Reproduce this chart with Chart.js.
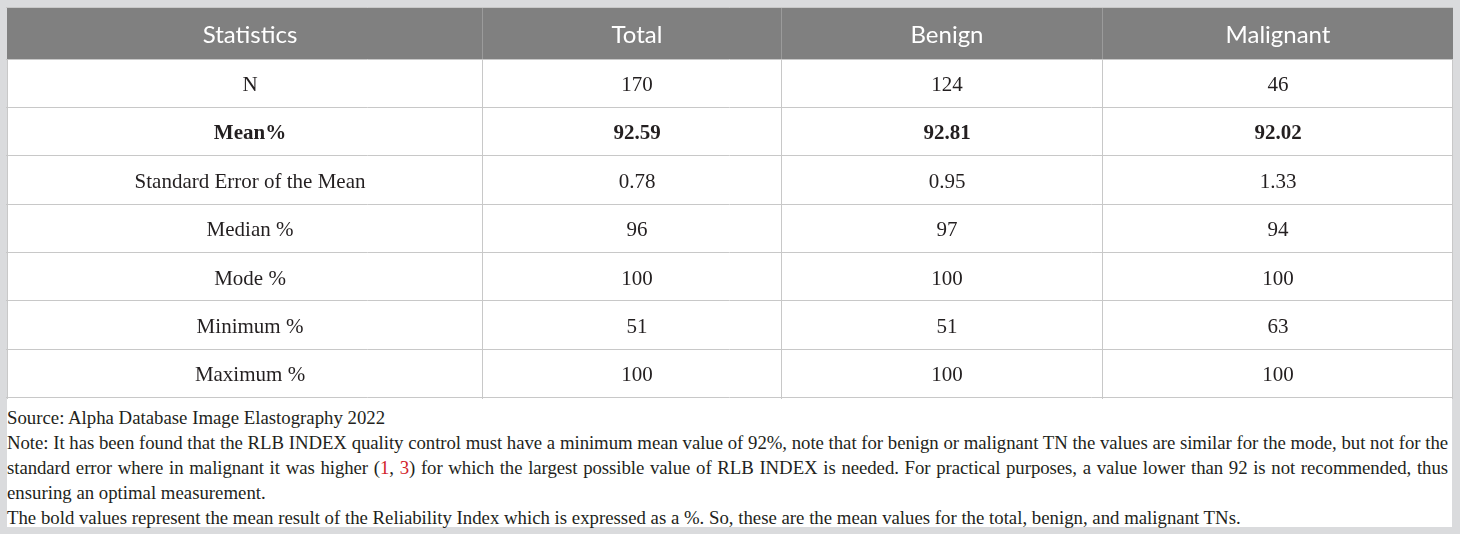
<!DOCTYPE html>
<html>
<head>
<meta charset="utf-8">
<script src="https://cdn.jsdelivr.net/npm/chart.js@4/dist/chart.umd.min.js"></script>
<style>
  html, body { margin: 0; padding: 0; background: #dadbdd; }
  #panel { position: absolute; left: 7px; top: 8px; width: 1445px; height: 519px; background: #fff; }
  #tbl { position: absolute; left: -1px; top: -1px; }
  #notes {
    position: absolute; left: 0; top: 397px; width: 1441px;
    font-family: "Liberation Serif", serif; font-size: 18.8px; line-height: 25px; color: #231f20;
  }
  #notes .j { text-align: justify; text-align-last: justify; letter-spacing: -0.06px; }
  #notes .ref { color: #d2232a; }
</style>
</head>
<body>
<div id="panel">
  <canvas id="tbl" width="1447" height="392"></canvas>
  <div id="notes">
    <div>Source: Alpha Database Image Elastography 2022</div>
    <div class="j">Note: It has been found that the RLB INDEX quality control must have a minimum mean value of 92%, note that for benign or malignant TN the values are similar for the mode, but not for the</div>
    <div class="j">standard error where in malignant it was higher (<span class="ref">1</span>, <span class="ref">3</span>) for which the largest possible value of RLB INDEX is needed. For practical purposes, a value lower than 92 is not recommended, thus</div>
    <div>ensuring an optimal measurement.</div>
    <div>The bold values represent the mean result of the Reliability Index which is expressed as a %. So, these are the mean values for the total, benign, and malignant TNs.</div>
  </div>
</div>
<script>
// table data
var columns = ["Statistics", "Total", "Benign", "Malignant"];
var statistics = ["N", "Mean%", "Standard Error of the Mean", "Median %", "Mode %", "Minimum %", "Maximum %"];
var total = [170, 92.59, 0.78, 96, 100, 51, 100];
var benign = [124, 92.81, 0.95, 97, 100, 51, 100];
var malignant = [46, 92.02, 1.33, 94, 100, 63, 100];
var decimals = [0, 2, 2, 0, 0, 0, 0];
var boldRow = "Mean%";

// layout (scale units = page pixels)
var colEdges = [7, 482, 781, 1102, 1452];
var colText = [250, 637, 947, 1278];
var rowEdges = [8, 59, 107.3, 155.7, 204, 252.3, 300.7, 349, 397.3];

var headFont = '24px Lato, "Open Sans", sans-serif';
var bodyFont = '21px "Liberation Serif", serif';
var boldFont = 'bold 21px "Liberation Serif", serif';

function rowMid(i) {
  return (rowEdges[i + 1] + rowEdges[i + 2]) / 2;
}

function columnData(values) {
  return values.map(function (v, i) {
    return { x: 0, y: rowMid(i), v: v, row: i };
  });
}

var valueCols = [total, benign, malignant];
var datasets = valueCols.map(function (values, c) {
  var pts = columnData(values);
  pts.forEach(function (p) { p.x = colText[c + 1]; });
  return { label: columns[c + 1], data: pts, pointRadius: 0, pointHoverRadius: 0 };
});

var tablePlugin = {
  id: "tableCells",
  beforeDatasetsDraw: function (chart) {
    var ctx = chart.ctx, xs = chart.scales.x, ys = chart.scales.y;
    var top = ys.getPixelForValue(rowEdges[0]);
    var bottom = ys.getPixelForValue(rowEdges[1]);
    var left = xs.getPixelForValue(colEdges[0]);
    var right = xs.getPixelForValue(colEdges[colEdges.length - 1]);
    ctx.save();
    ctx.fillStyle = "#808080";
    ctx.fillRect(left, top, right - left + 1, bottom - top);
    ctx.strokeStyle = "#9b9b9b";
    ctx.lineWidth = 1;
    for (var i = 1; i < colEdges.length - 1; i++) {
      var px = Math.round(xs.getPixelForValue(colEdges[i])) + 0.5;
      ctx.beginPath();
      ctx.moveTo(px, top);
      ctx.lineTo(px, bottom);
      ctx.stroke();
    }
    ctx.textAlign = "center";
    ctx.textBaseline = "middle";
    ctx.fillStyle = "#ffffff";
    ctx.font = headFont;
    columns.forEach(function (name, c) {
      ctx.fillText(name, xs.getPixelForValue(colText[c]), (top + bottom) / 2 + 1.5);
    });
    ctx.fillStyle = "#231f20";
    statistics.forEach(function (name, r) {
      ctx.font = name === boldRow ? boldFont : bodyFont;
      ctx.fillText(name, xs.getPixelForValue(colText[0]), ys.getPixelForValue(rowMid(r)) + 2.5);
    });
    ctx.restore();
  },
  afterDatasetsDraw: function (chart) {
    var ctx = chart.ctx;
    ctx.save();
    ctx.textAlign = "center";
    ctx.textBaseline = "middle";
    ctx.fillStyle = "#231f20";
    chart.data.datasets.forEach(function (ds, d) {
      var meta = chart.getDatasetMeta(d);
      meta.data.forEach(function (pt, i) {
        var raw = ds.data[i];
        ctx.font = statistics[raw.row] === boldRow ? boldFont : bodyFont;
        ctx.fillText(raw.v.toFixed(decimals[raw.row]), pt.x, pt.y + 2.5);
      });
    });
    ctx.restore();
  }
};

new Chart(document.getElementById("tbl").getContext("2d"), {
  type: "scatter",
  data: { datasets: datasets },
  options: {
    responsive: false,
    animation: false,
    events: [],
    layout: { padding: 0 },
    plugins: { legend: { display: false }, tooltip: { enabled: false } },
    scales: {
      x: {
        type: "linear",
        min: 6,
        max: 1453,
        afterBuildTicks: function (scale) {
          scale.ticks = colEdges.map(function (v) { return { value: v }; });
        },
        ticks: { display: false },
        grid: { color: "#c8c8c8", drawTicks: false },
        border: { display: false }
      },
      y: {
        type: "linear",
        reverse: true,
        min: 7,
        max: 399,
        afterBuildTicks: function (scale) {
          scale.ticks = rowEdges.map(function (v) { return { value: v }; });
        },
        ticks: { display: false },
        grid: { color: "#c8c8c8", drawTicks: false },
        border: { display: false }
      }
    }
  },
  plugins: [tablePlugin]
});
</script>
</body>
</html>
